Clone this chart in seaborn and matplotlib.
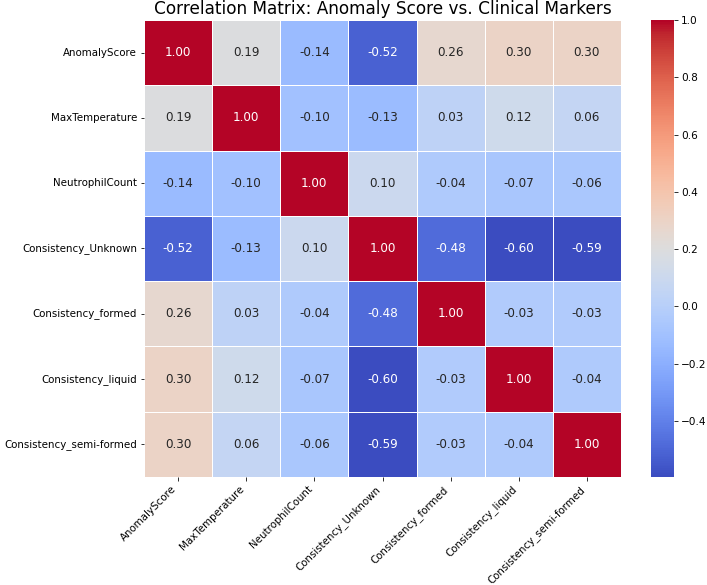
import numpy as np
import pandas as pd
import matplotlib
matplotlib.use("Agg")
import matplotlib.pyplot as plt
import seaborn as sns

labels = ["AnomalyScore", "MaxTemperature", "NeutrophilCount", "Consistency_Unknown",
          "Consistency_formed", "Consistency_liquid", "Consistency_semi-formed"]

row_anomaly = [1.00, 0.19, -0.14, -0.52, 0.26, 0.30, 0.30]
row_maxtemp = [0.19, 1.00, -0.10, -0.13, 0.03, 0.12, 0.06]
row_neutro = [-0.14, -0.10, 1.00, 0.10, -0.04, -0.07, -0.06]
row_unknown = [-0.52, -0.13, 0.10, 1.00, -0.48, -0.596, -0.59]
row_formed = [0.26, 0.03, -0.04, -0.48, 1.00, -0.03, -0.03]
row_liquid = [0.30, 0.12, -0.07, -0.596, -0.03, 1.00, -0.04]
row_semi = [0.30, 0.06, -0.06, -0.59, -0.03, -0.04, 1.00]

corr = pd.DataFrame([row_anomaly, row_maxtemp, row_neutro, row_unknown,
                     row_formed, row_liquid, row_semi], index=labels, columns=labels)

W, H = 707, 585
dpi = 72
fig = plt.figure(figsize=(W / dpi, H / dpi), dpi=dpi)
ax = fig.add_axes([144 / W, 1 - 477 / H, (621 - 144) / W, (477 - 20) / H])
cax = fig.add_axes([651 / W, 1 - 477 / H, 23 / W, (477 - 20) / H])

sns.heatmap(corr, annot=True, fmt=".2f", cmap="coolwarm", linewidths=0.5,
            linecolor="white", ax=ax, cbar_ax=cax, annot_kws={"size": 12})
ax.set_title("Correlation Matrix: Anomaly Score vs. Clinical Markers", fontsize=16.9)
ax.set_xticklabels(ax.get_xticklabels(), rotation=45, ha="right", fontsize=10.3)
ax.set_yticklabels(ax.get_yticklabels(), rotation=0, fontsize=10.3)
cax.tick_params(labelsize=10.5)

fig.savefig("out.png", dpi=dpi)
